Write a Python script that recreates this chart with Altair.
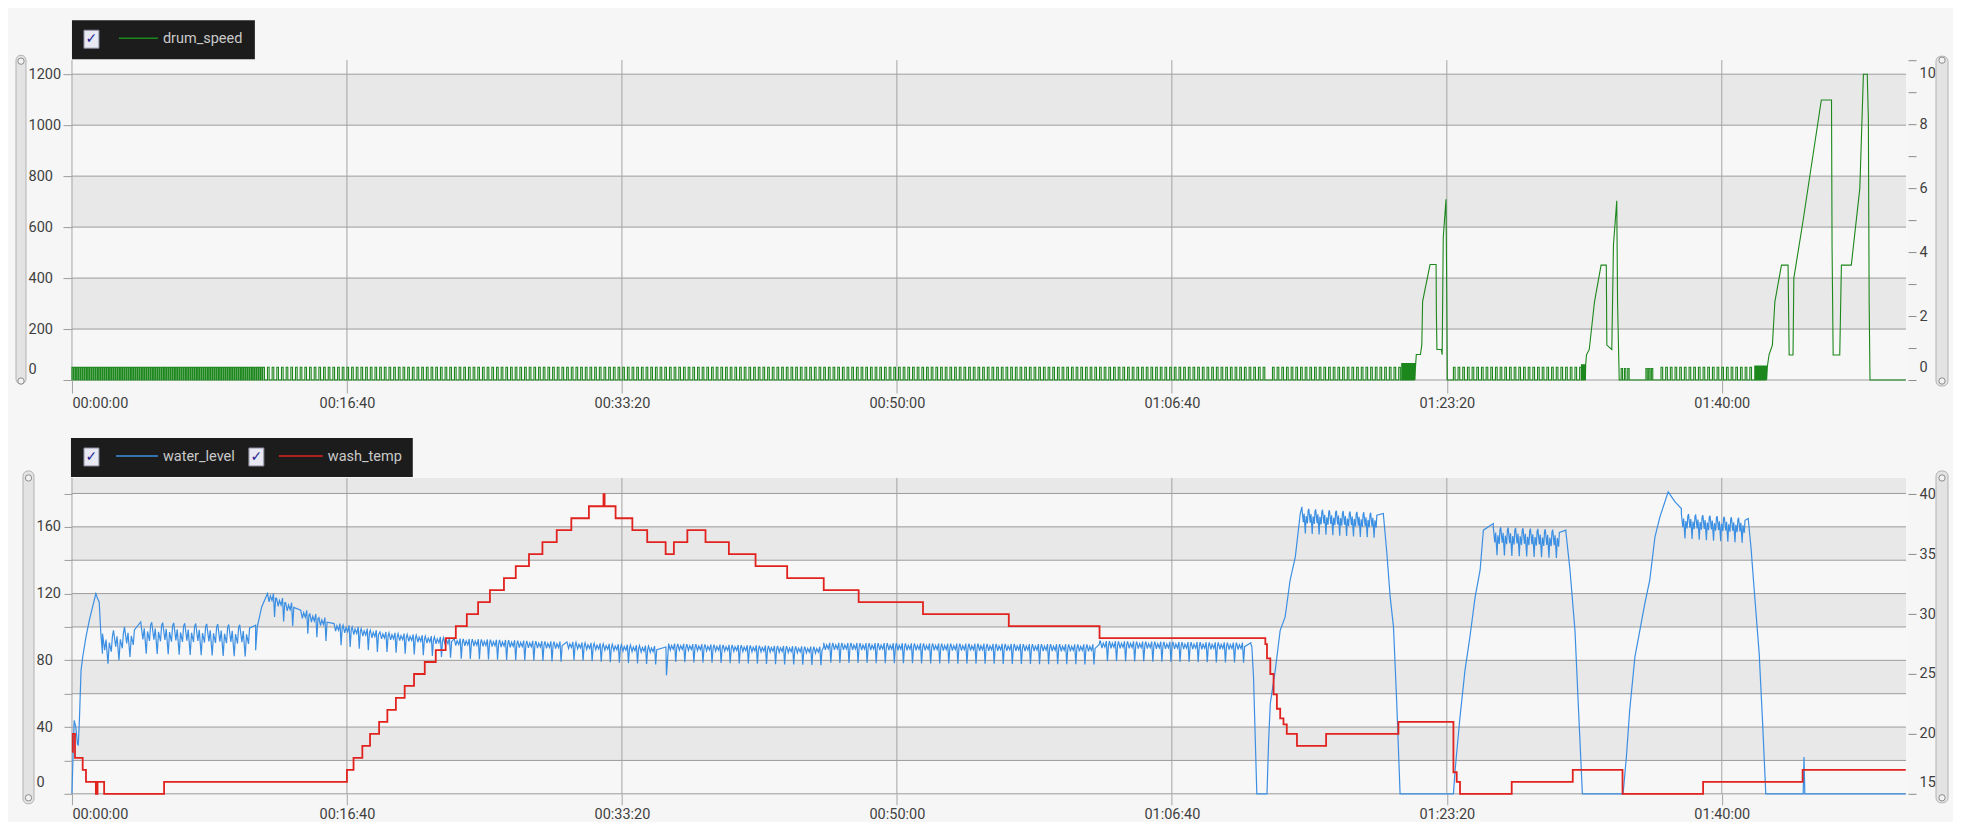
import altair as alt
import pandas as pd

# ---------------- values ----------------
T_MAX = 6670                      # seconds shown on the time axis
TIME_TICKS = [0, 1000, 2000, 3000, 4000, 5000, 6000]

TOP_GRID = [0, 200, 400, 600, 800, 1000, 1200]
TOP_BAND_LO = [200, 600, 1000]
TOP_BAND_HI = [400, 800, 1200]
TOP_RIGHT_TICKS = [0, 1, 2, 3, 4, 5, 6, 7, 8, 9, 10]

BOT_GRID = [0, 20, 40, 60, 80, 100, 120, 140, 160, 180]
BOT_BAND_LO = [20, 60, 100, 140, 180]
BOT_BAND_HI = [40, 80, 120, 160, 189.3]
BOT_RIGHT_TICKS = [15, 20, 25, 30, 35, 40]

# drum_speed: agitation pulse trains (start, end, period, on-time, level)
DRUM_TRAINS = [
    (0, 694, 8, 5, 50),
    (694, 4340, 17, 6, 50),
    (4366, 4836, 17, 6, 50),
    (4836, 4886, 5, 3, 65),
    (5024, 5490, 17, 6, 50),
    (5490, 5505, 4, 2, 60),
    (5634, 5670, 12, 5, 45),
    (5724, 5754, 10, 5, 45),
    (5779, 6120, 17, 6, 50),
    (6120, 6166, 5, 3, 55),
]
# drum_speed: spin phases (time s, rpm)
DRUM_SPIN_1 = [(4886, 50), (4889, 100), (4904, 100), (4909, 138), (4912, 309), (4939, 453),
               (4961, 453), (4962, 270), (4964, 120), (4980, 120), (4983, 99), (4987, 558),
               (4997, 709), (5000, 300), (5002, 0), (5024, 0)]
DRUM_SPIN_2 = [(5505, 60), (5508, 99), (5518, 120), (5537, 307), (5561, 451), (5580, 451),
               (5582, 137), (5600, 120), (5606, 530), (5618, 703), (5621, 300), (5627, 0),
               (5634, 0)]
DRUM_SPIN_3 = [(6166, 55), (6172, 100), (6184, 137), (6193, 307), (6217, 451), (6241, 451),
               (6245, 98), (6259, 98), (6262, 400), (6295, 621), (6362, 1099), (6399, 1099),
               (6401, 523), (6405, 98), (6429, 98), (6435, 451), (6471, 451), (6502, 752),
               (6515, 1200), (6529, 1200), (6533, 1027), (6536, 300), (6539, 0), (6669, 0)]

# water_level: fills / drains (time s, level)
WATER_FILL_1 = [(0, 0), (2, 12), (8, 44), (14, 40), (20, 30), (23, 29), (27, 44), (33, 74),
                (39, 82), (51, 94), (63, 104), (75, 112), (87, 120), (93, 117), (99, 115),
                (105, 96), (111, 84)]
WATER_REFILL = [(668, 86), (674, 100), (690, 112), (711, 120)]
WATER_DIP = [(2162, 71), (2170, 90)]
WATER_STEP = [(3738, 91.5)]
WATER_SPIN_1 = [(4287, 90), (4291, 88), (4297, 70), (4309, 0), (4346, 0), (4352, 32),
                (4358, 54), (4376, 74), (4394, 98), (4412, 106), (4430, 128), (4449, 142),
                (4467, 168), (4473, 172)]
WATER_SPIN_2 = [(4769, 168), (4782, 144), (4794, 118), (4806, 100), (4818, 54), (4830, 0),
                (5024, 0), (5030, 14), (5048, 46), (5066, 74), (5084, 94), (5103, 118),
                (5121, 134), (5133, 158), (5169, 162)]
WATER_SPIN_3 = [(5433, 157), (5448, 134), (5466, 98), (5478, 54), (5493, 0), (5641, 0),
                (5653, 22), (5665, 50), (5684, 82), (5702, 98), (5720, 114), (5738, 128),
                (5757, 154), (5775, 166), (5805, 181), (5830, 175), (5853, 171)]
WATER_END = [(6096, 165), (6106, 148), (6118, 122), (6136, 84), (6148, 44), (6160, 0),
             (6296, 0), (6299, 22), (6302, 0), (6669, 0)]
# water_level: ripple while the drum turns
# (start, end, top start, top end, dip depth, period, shape)
WATER_RIPPLES = [
    (111, 250, 96, 103, 18, 40, "w"),
    (250, 668, 103, 101, 19, 40, "w"),
    (711, 832, 120, 110, 14, 33, "y"),
    (832, 953, 110, 102, 14, 33, "y"),
    (953, 1120, 102, 97, 13, 33, "y"),
    (1120, 1390, 97, 93, 12, 33, "y"),
    (1390, 1800, 93, 91, 12, 33, "y"),
    (1800, 2160, 91, 88, 11, 33, "y"),
    (2170, 2734, 90, 88, 11, 33, "y"),
    (2734, 3736, 90.5, 89.5, 12, 33, "y"),
    (3740, 4287, 91.5, 90.5, 12, 33, "y"),
    (4473, 4769, 171, 168, 15, 25, "w"),
    (5169, 5433, 160, 158, 17, 27, "w"),
    (5853, 6096, 168, 165, 15, 26, "w"),
]
# shape of one ripple period: (fraction of period, fraction of dip depth)
RIPPLE_SHAPES = {
    "y": [(0.0, 0.0), (0.18, 0.35), (0.32, 0.1), (0.5, 0.3), (0.66, 0.0), (0.78, 1.0), (0.9, 0.2)],
    "w": [(0.0, 0.0), (0.2, 0.55), (0.32, 0.2), (0.5, 1.0), (0.62, 0.3), (0.8, 0.6), (0.9, 0.1)],
}

# wash_temp steps (time s, deg C)
WASH_TEMP = [(0, 18.5), (3, 20), (11, 18), (39, 17), (51, 16), (87, 15), (93, 16), (117, 15),
             (335, 16), (1000, 17), (1024, 18), (1056, 19), (1084, 20), (1117, 21), (1147, 22),
             (1178, 23), (1210, 24), (1244, 25), (1283, 26), (1323, 27), (1359, 28), (1396, 29),
             (1436, 30), (1477, 31), (1520, 32), (1571, 33), (1614, 34), (1662, 35), (1711, 36),
             (1763, 37), (1816, 38), (1880, 39), (1933, 40), (1937, 39), (1977, 38), (2038, 37),
             (2092, 36), (2159, 35), (2189, 36), (2238, 37), (2304, 36), (2389, 35), (2486, 34),
             (2601, 33), (2734, 32), (2861, 31), (3095, 30), (3407, 29), (3737, 28), (4340, 27.5),
             (4346, 26.3), (4358, 25), (4370, 23.3), (4382, 22.1), (4394, 21.3), (4406, 20.8),
             (4418, 20), (4455, 19), (4561, 20), (4824, 21), (5024, 16.8), (5036, 16), (5048, 15),
             (5236, 16), (5458, 17), (5639, 15), (5932, 16), (6294, 17), (6669, 17)]

GREEN = "#1c871c"
BLUE = "#3b8fe3"
RED = "#e1231f"
FONT = "Roboto"


# ---------------- building the tables ----------------
def pulse_points(t0, t1, period, on, level):
    pts = []
    t = t0
    while t + on <= t1:
        pts += [(t, 0), (t, level), (t + on, level), (t + on, 0)]
        t += period
    return pts


def ripple_points(t0, t1, u0, u1, depth, period, shape):
    pts = []
    t = t0
    while t + period <= t1:
        u = u0 + (u1 - u0) * (t - t0) / (t1 - t0)
        pts += [(t + f * period, u - d * depth) for f, d in RIPPLE_SHAPES[shape]]
        t += period
    pts.append((t1, u1))
    return pts


def to_df(pieces):
    pieces = sorted(pieces, key=lambda p: p[0])
    pts = [pt for _, seg in pieces for pt in seg]
    return pd.DataFrame({"t": [p[0] for p in pts], "v": [p[1] for p in pts],
                         "i": list(range(len(pts)))})


drum_df = to_df([(tr[0], pulse_points(*tr)) for tr in DRUM_TRAINS] +
                [(s[0][0], s) for s in (DRUM_SPIN_1, DRUM_SPIN_2, DRUM_SPIN_3)])
water_df = to_df([(r[0], ripple_points(*r)) for r in WATER_RIPPLES] +
                 [(s[0][0], s) for s in (WATER_FILL_1, WATER_REFILL, WATER_DIP, WATER_STEP,
                                         WATER_SPIN_1, WATER_SPIN_2, WATER_SPIN_3, WATER_END)])
temp_df = to_df([(0, WASH_TEMP)])

ONE = pd.DataFrame({"k": [0]})


def xs():
    return alt.Scale(domain=[0, T_MAX], nice=False, zero=False)


def x_axis(tick):
    return alt.Axis(values=TIME_TICKS, labelExpr="utcFormat(datum.value * 1000, '%H:%M:%S')",
                    tickSize=tick, tickColor="#a4a4a4", labelPadding=3, labelFlush=True,
                    title=None, grid=False, domain=False)


def bands(lo, hi, dom, tick):
    df = pd.DataFrame({"y0": lo, "y1": hi, "x0": [0] * len(lo), "x1": [T_MAX] * len(lo)})
    return alt.Chart(df).mark_rect(color="#e8e8e8").encode(
        x=alt.X("x0:Q", scale=xs(), axis=x_axis(tick)), x2="x1:Q",
        y=alt.Y("y0:Q", scale=alt.Scale(domain=dom, nice=False, zero=False), axis=None), y2="y1:Q")


def hgrid(vals, dom):
    return alt.Chart(pd.DataFrame({"g": vals})).mark_rule(color="#9c9c9c", strokeWidth=1).encode(
        y=alt.Y("g:Q", scale=alt.Scale(domain=dom, nice=False, zero=False), axis=None))


def vgrid(tick):
    return alt.Chart(pd.DataFrame({"g": TIME_TICKS})).mark_rule(color="#a4a4a4", strokeWidth=1).encode(
        x=alt.X("g:Q", scale=xs(), axis=x_axis(tick)))


def legend(box_x0, box_x1, items):
    layers = [alt.Chart(ONE).mark_rect(color="#1c1c1c").encode(
        x=alt.value(box_x0), x2=alt.value(box_x1), y=alt.value(-40), y2=alt.value(-1))]
    for cx, lx0, lx1, tx, color, label in items:
        layers.append(alt.Chart(ONE).mark_rect(fill="#e9e9f3", stroke="#8a8a9c", strokeWidth=1).encode(
            x=alt.value(cx), x2=alt.value(cx + 15), y=alt.value(-30), y2=alt.value(-12)))
        layers.append(alt.Chart(ONE).mark_text(font="DejaVu Sans", fontSize=14, fontWeight="bold",
                                               color="#26268f", baseline="middle", align="center").encode(
            x=alt.value(cx + 7.5), y=alt.value(-21), text=alt.value("\u2713")))
        layers.append(alt.Chart(ONE).mark_rule(color=color, strokeWidth=1.5).encode(
            x=alt.value(lx0), x2=alt.value(lx1), y=alt.value(-22)))
        layers.append(alt.Chart(ONE).mark_text(font=FONT, fontSize=14.5, color="#c9c9c9",
                                               baseline="middle", align="left").encode(
            x=alt.value(tx), y=alt.value(-21), text=alt.value(label)))
    return layers


def widget(x0, x1, y0, y1, cy0, cy1):
    cx = (x0 + x1) / 2
    return [
        alt.Chart(ONE).mark_rect(fill="#e3e3e3", stroke="#b3b3b3", strokeWidth=1, cornerRadius=5).encode(
            x=alt.value(x0), x2=alt.value(x1), y=alt.value(y0), y2=alt.value(y1)),
        alt.Chart(ONE).mark_circle(size=40, color="#f2f2f2", stroke="#8c8c8c", strokeWidth=1, opacity=1).encode(
            x=alt.value(cx), y=alt.value(cy0)),
        alt.Chart(ONE).mark_circle(size=40, color="#f2f2f2", stroke="#8c8c8c", strokeWidth=1, opacity=1).encode(
            x=alt.value(cx), y=alt.value(cy1)),
    ]


W = 1835
H_TOP = 320
H_BOT = 316
TICK_TOP = 13
TICK_BOT = 11

# ---------------- top panel: drum_speed ----------------
TOP_DOM = [0, 1255]
drum_line = alt.Chart(drum_df).mark_line(color=GREEN, strokeWidth=1.1).encode(
    x=alt.X("t:Q", scale=xs(), axis=x_axis(TICK_TOP)),
    y=alt.Y("v:Q", scale=alt.Scale(domain=TOP_DOM, nice=False, zero=False),
            axis=alt.Axis(orient="left", values=TOP_GRID, format="d", tickSize=9, tickColor="#9c9c9c",
                          labelAlign="left", labelPadding=35, labelFlush=True, labelFlushOffset=-4,
                          title=None, grid=False, domain=False)),
    order="i:Q")
top_right = alt.Chart(pd.DataFrame({"r": [0, 10]})).mark_point(opacity=0).encode(
    y=alt.Y("r:Q", scale=alt.Scale(domain=[0, 10], nice=False),
            axis=alt.Axis(orient="right", values=TOP_RIGHT_TICKS,
                          labelExpr="datum.value % 2 == 0 ? datum.label : ''",
                          offset=2, tickSize=8, tickColor="#8c8c8c", labelPadding=3,
                          labelFlush=True, labelFlushOffset=-6, title=None, grid=False, domain=False)))
top = alt.layer(bands(TOP_BAND_LO, TOP_BAND_HI, TOP_DOM, TICK_TOP), hgrid(TOP_GRID, TOP_DOM),
                vgrid(TICK_TOP), drum_line, top_right,
                *legend(0, 183, [(12, 47, 86, 91, GREEN, "drum_speed")]),
                *widget(-56, -46, -5, 324, 1, 321),
                *widget(W + 30, W + 42, -4, 326, 0, 321)).resolve_scale(y="independent").properties(
    width=W, height=H_TOP)

# ---------------- bottom panel: water_level & wash_temp ----------------
BOT_DOM = [0, 189.3]
water_line = alt.Chart(water_df).mark_line(color=BLUE, strokeWidth=1.2).encode(
    x=alt.X("t:Q", scale=xs(), axis=x_axis(TICK_BOT)),
    y=alt.Y("v:Q", scale=alt.Scale(domain=BOT_DOM, nice=False, zero=False),
            axis=alt.Axis(orient="left", values=BOT_GRID, tickSize=8, tickColor="#9c9c9c",
                          labelAlign="left",
                          labelExpr="datum.value % 40 == 0 && datum.value < 180 ? datum.label : ''",
                          labelPadding=28, labelFlush=True, labelFlushOffset=-4, title=None,
                          grid=False, domain=False)),
    order="i:Q")
temp_line = alt.Chart(temp_df).mark_line(color=RED, strokeWidth=1.8, interpolate="step-after").encode(
    x=alt.X("t:Q", scale=xs(), axis=x_axis(TICK_BOT)),
    y=alt.Y("v:Q", scale=alt.Scale(domain=[15, 41.36], nice=False, zero=False),
            axis=alt.Axis(orient="right", values=BOT_RIGHT_TICKS, offset=2, tickSize=8,
                          tickColor="#8c8c8c", labelPadding=3, labelFlush=True, labelFlushOffset=-4,
                          title=None, grid=False, domain=False)),
    order="i:Q")
bottom = alt.layer(bands(BOT_BAND_LO, BOT_BAND_HI, BOT_DOM, TICK_BOT), hgrid(BOT_GRID, BOT_DOM),
                   vgrid(TICK_BOT), water_line, temp_line,
                   *legend(-1, 341, [(12, 44, 86, 91, BLUE, "water_level"),
                                     (177, 207, 251, 256, RED, "wash_temp")]),
                   *widget(-49, -38, -7, 326, 0, 320),
                   *widget(W + 30, W + 42, -7, 325, 0, 320)).resolve_scale(y="independent").properties(
    width=W, height=H_BOT)

chart = alt.vconcat(top, bottom, spacing=98, bounds="flush").properties(
    padding={"left": 7, "top": 11, "right": 4, "bottom": 0},
    background="#f6f6f6",
).configure_view(stroke="transparent", fill="#f7f7f7").configure_axis(
    labelFont=FONT, labelFontSize=14.5, labelColor="#3f3f3f")

chart.save("out.html", embed_options={"renderer": "svg", "actions": False})
